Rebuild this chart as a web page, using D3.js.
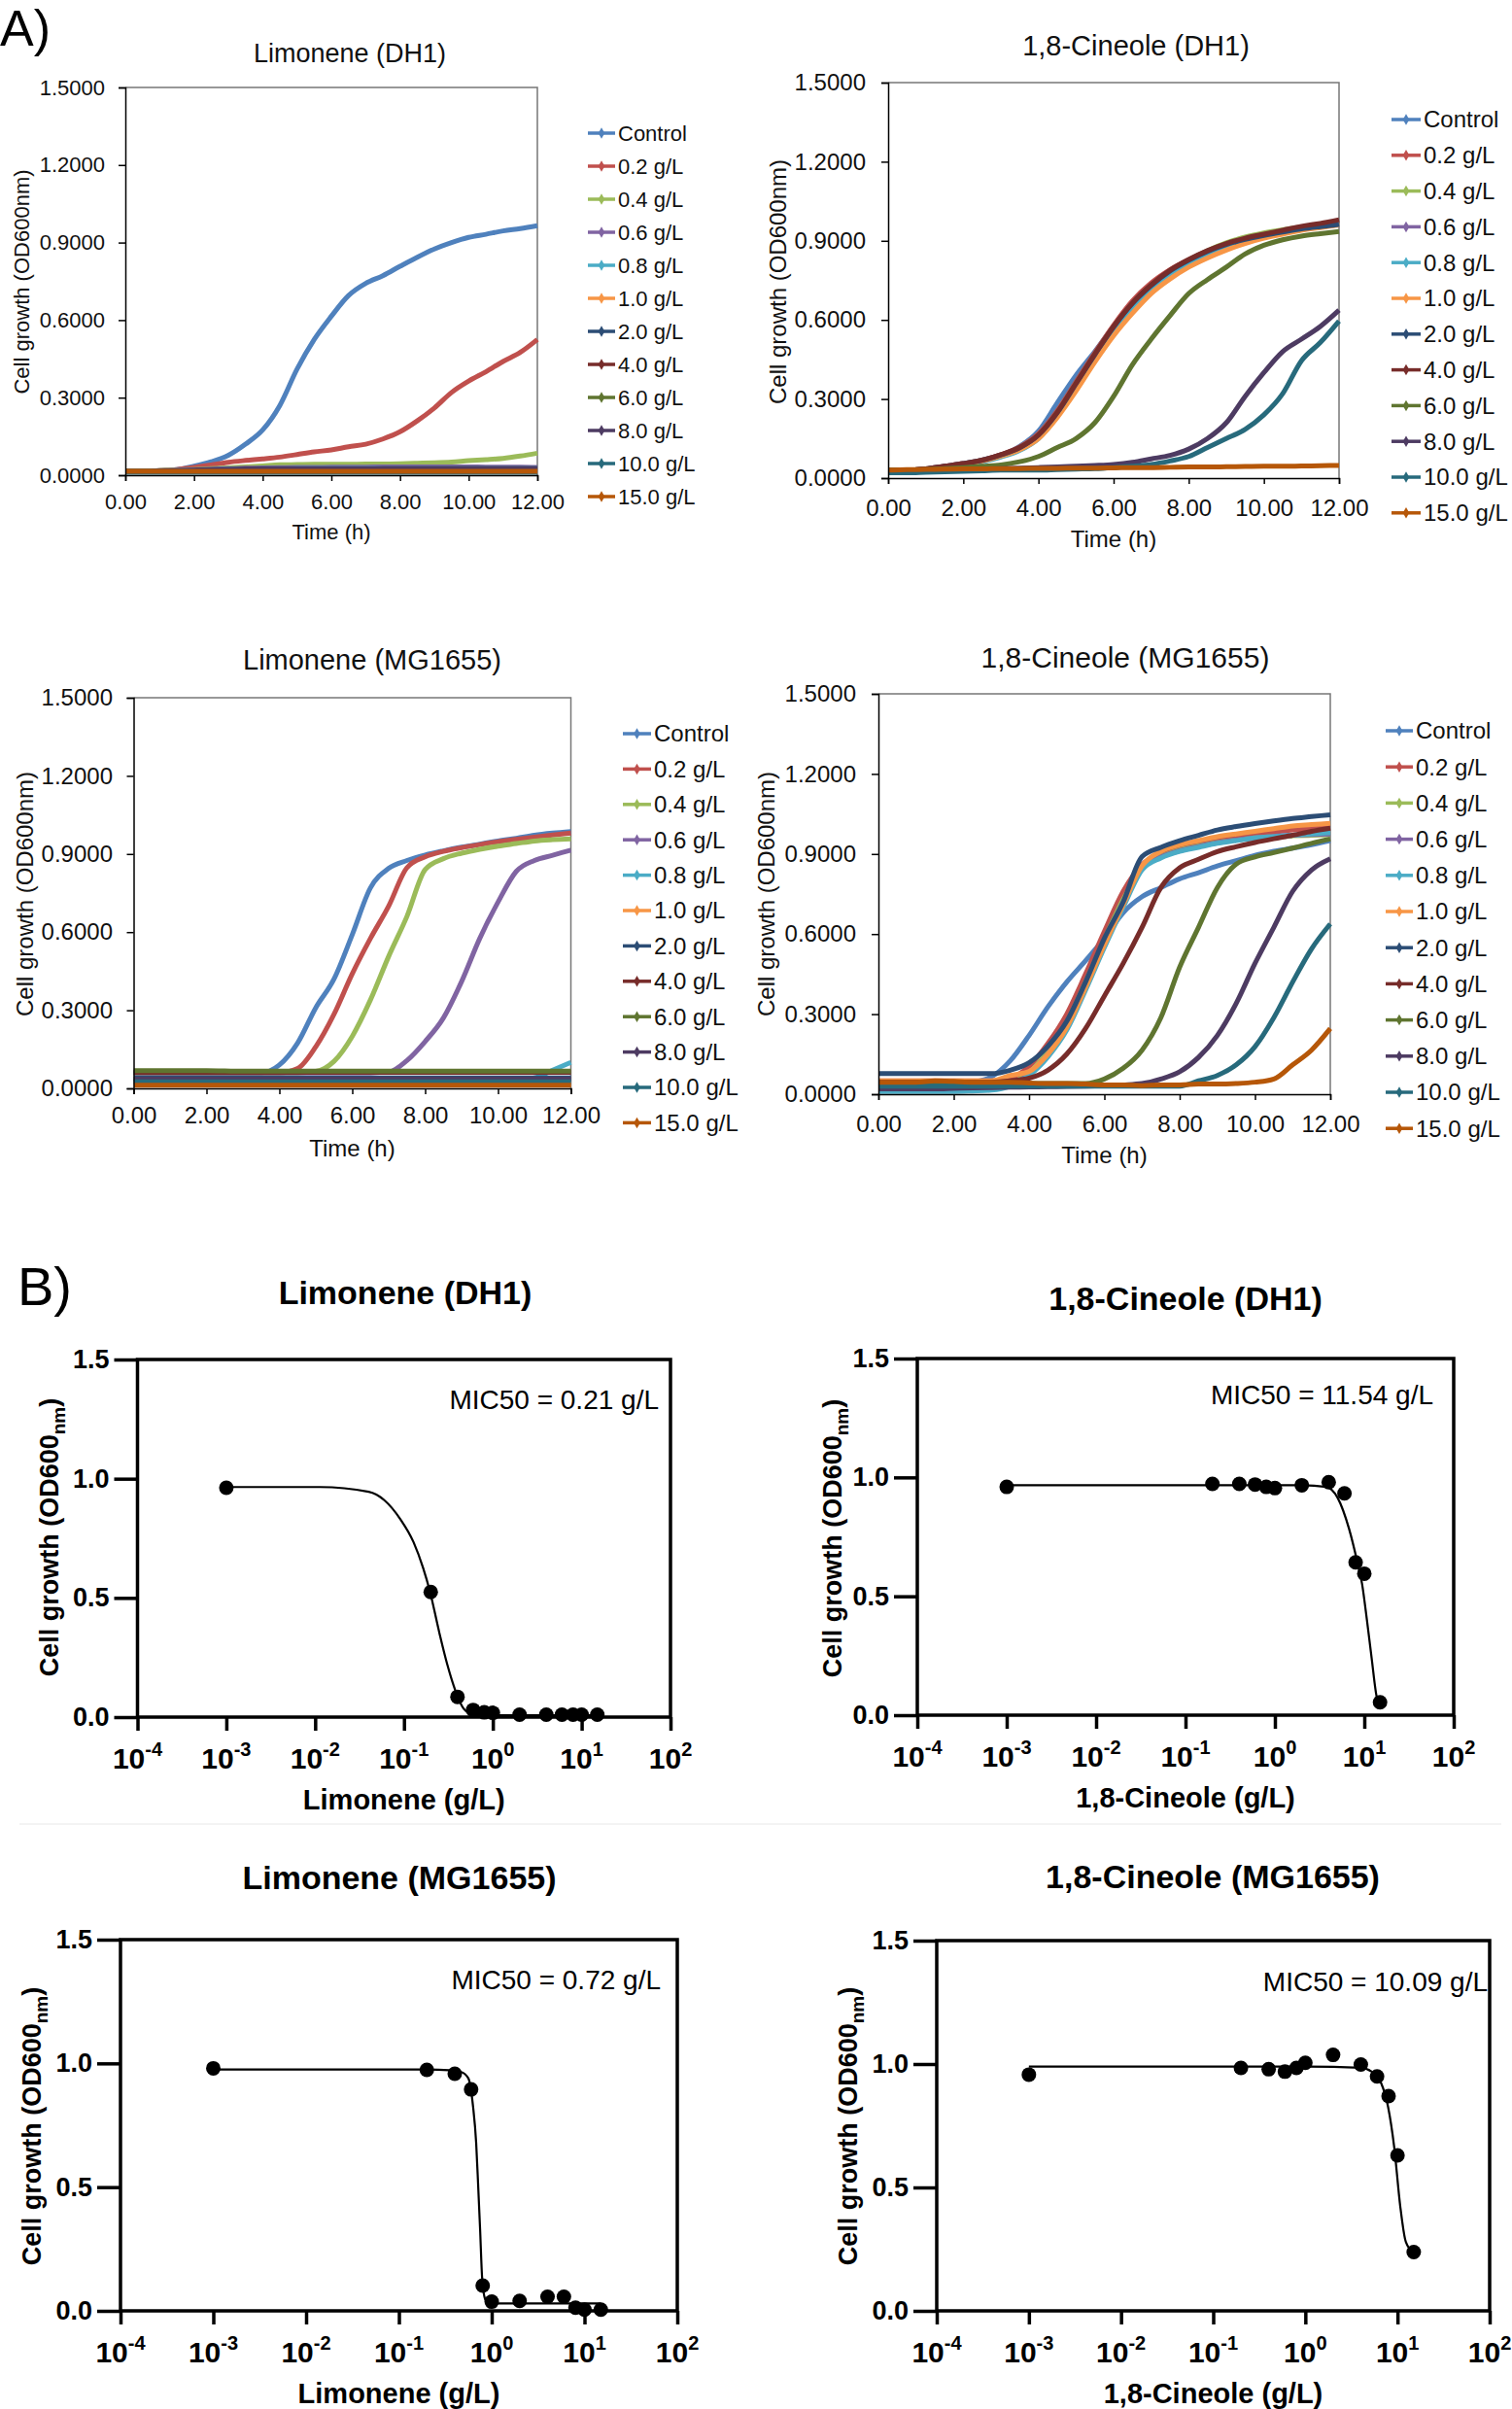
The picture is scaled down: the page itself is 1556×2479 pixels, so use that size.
<!DOCTYPE html>
<html>
<head>
<meta charset="utf-8">
<script src="https://cdn.jsdelivr.net/npm/d3@7"></script>
<style>
  body { margin: 0; background: #fff; }
  svg { display: block; font-family: "Liberation Sans", Arial, sans-serif; }
</style>
</head>
<body>
<svg id="fig" width="1556" height="2479"></svg>
<script>
// ---------- data: growth curves (A) ----------
const hours = [0,0.5,1,1.5,2,2.5,3,3.5,4,4.5,5,5.5,6,6.5,7,7.5,8,8.5,9,9.5,10,10.5,11,11.5,12];
const doseLabels = ["Control","0.2 g/L","0.4 g/L","0.6 g/L","0.8 g/L","1.0 g/L","2.0 g/L","4.0 g/L","6.0 g/L","8.0 g/L","10.0 g/L","15.0 g/L"];
const doseColors = ["#4F81BD","#C0504D","#9BBB59","#8064A2","#4BACC6","#F79646","#2C4D75","#772C2A","#5F7530","#4D3B62","#276A7C","#B65708"];
const growthYTicks = [0,0.3,0.6,0.9,1.2,1.5];
const growthXTicks = [0,2,4,6,8,10,12];

const limoneneDH1 = [
  [0.015,0.015,0.018,0.022,0.035,0.052,0.077,0.12,0.175,0.27,0.41,0.525,0.615,0.695,0.742,0.772,0.808,0.843,0.875,0.9,0.92,0.932,0.945,0.954,0.965],
  [0.015,0.016,0.018,0.022,0.03,0.04,0.05,0.057,0.063,0.07,0.08,0.09,0.098,0.11,0.12,0.14,0.168,0.21,0.26,0.32,0.364,0.4,0.44,0.475,0.525],
  [0.015,0.015,0.018,0.02,0.022,0.025,0.028,0.032,0.036,0.04,0.041,0.042,0.042,0.042,0.043,0.043,0.044,0.046,0.048,0.051,0.056,0.06,0.065,0.074,0.085],
  [0.015,0.015,0.017,0.019,0.021,0.023,0.025,0.027,0.028,0.029,0.03,0.03,0.031,0.031,0.031,0.032,0.032,0.032,0.032,0.032,0.032,0.031,0.031,0.031,0.03],
  [0.014,0.014,0.015,0.017,0.019,0.021,0.023,0.024,0.025,0.025,0.026,0.026,0.026,0.026,0.026,0.026,0.026,0.026,0.026,0.026,0.026,0.026,0.026,0.026,0.026],
  [0.014,0.014,0.015,0.016,0.017,0.018,0.019,0.02,0.02,0.021,0.021,0.021,0.021,0.021,0.021,0.021,0.021,0.021,0.021,0.021,0.021,0.021,0.021,0.021,0.021],
  [0.014,0.014,0.015,0.016,0.017,0.018,0.019,0.02,0.02,0.02,0.02,0.02,0.02,0.02,0.02,0.02,0.02,0.02,0.02,0.02,0.02,0.02,0.02,0.02,0.02],
  [0.013,0.013,0.014,0.015,0.016,0.017,0.018,0.019,0.02,0.021,0.021,0.022,0.022,0.022,0.022,0.022,0.022,0.022,0.022,0.022,0.022,0.022,0.022,0.022,0.022],
  [0.015,0.015,0.016,0.016,0.017,0.017,0.017,0.017,0.017,0.017,0.017,0.017,0.017,0.017,0.017,0.017,0.017,0.017,0.017,0.017,0.017,0.017,0.017,0.017,0.017],
  [0.014,0.014,0.016,0.018,0.02,0.022,0.023,0.024,0.025,0.025,0.025,0.025,0.025,0.025,0.025,0.026,0.026,0.026,0.026,0.026,0.026,0.026,0.026,0.026,0.026],
  [0.011,0.011,0.011,0.011,0.011,0.011,0.011,0.011,0.011,0.011,0.011,0.011,0.011,0.011,0.011,0.011,0.011,0.011,0.011,0.011,0.011,0.011,0.011,0.011,0.011],
  [0.015,0.015,0.015,0.015,0.015,0.015,0.015,0.015,0.015,0.015,0.015,0.015,0.015,0.015,0.015,0.015,0.015,0.015,0.015,0.015,0.015,0.015,0.015,0.015,0.015]
];

const cineoleDH1 = [
  [0.03,0.03,0.033,0.04,0.05,0.062,0.085,0.12,0.178,0.285,0.39,0.48,0.575,0.66,0.728,0.78,0.82,0.855,0.88,0.9,0.915,0.93,0.942,0.952,0.962],
  [0.03,0.03,0.035,0.045,0.055,0.068,0.089,0.118,0.168,0.255,0.365,0.475,0.58,0.672,0.74,0.79,0.828,0.86,0.886,0.906,0.922,0.937,0.951,0.962,0.975],
  [0.03,0.03,0.034,0.043,0.053,0.066,0.086,0.114,0.162,0.248,0.358,0.468,0.572,0.66,0.73,0.785,0.826,0.862,0.892,0.914,0.93,0.942,0.952,0.96,0.97],
  [0.03,0.03,0.034,0.043,0.053,0.066,0.086,0.112,0.16,0.245,0.355,0.465,0.57,0.658,0.727,0.78,0.82,0.855,0.882,0.902,0.918,0.932,0.945,0.955,0.965],
  [0.025,0.025,0.03,0.04,0.05,0.062,0.08,0.105,0.15,0.235,0.345,0.455,0.56,0.65,0.72,0.775,0.815,0.85,0.878,0.9,0.916,0.93,0.943,0.953,0.962],
  [0.03,0.03,0.034,0.043,0.053,0.065,0.083,0.108,0.15,0.23,0.33,0.44,0.54,0.625,0.7,0.755,0.8,0.835,0.865,0.89,0.91,0.925,0.94,0.95,0.96],
  [0.03,0.03,0.035,0.045,0.055,0.068,0.088,0.115,0.163,0.248,0.358,0.468,0.573,0.662,0.73,0.785,0.826,0.86,0.886,0.905,0.92,0.933,0.945,0.954,0.962],
  [0.03,0.03,0.035,0.045,0.055,0.068,0.089,0.116,0.164,0.25,0.36,0.47,0.575,0.664,0.733,0.788,0.829,0.863,0.89,0.91,0.925,0.94,0.955,0.966,0.98],
  [0.03,0.03,0.032,0.036,0.04,0.045,0.05,0.062,0.082,0.116,0.15,0.21,0.31,0.43,0.527,0.616,0.7,0.753,0.8,0.85,0.883,0.904,0.918,0.927,0.935],
  [0.025,0.025,0.028,0.03,0.032,0.034,0.036,0.038,0.04,0.042,0.045,0.048,0.052,0.06,0.073,0.086,0.11,0.15,0.21,0.31,0.4,0.48,0.527,0.575,0.637],
  [0.02,0.02,0.022,0.024,0.026,0.028,0.03,0.03,0.03,0.032,0.034,0.036,0.04,0.045,0.052,0.065,0.082,0.116,0.15,0.185,0.24,0.32,0.445,0.514,0.596],
  [0.03,0.032,0.033,0.034,0.035,0.035,0.036,0.036,0.037,0.037,0.038,0.038,0.039,0.04,0.04,0.041,0.042,0.042,0.043,0.044,0.045,0.045,0.046,0.047,0.048]
];

const limoneneMG1655 = [
  [0.06,0.06,0.06,0.06,0.06,0.06,0.06,0.06,0.09,0.174,0.31,0.42,0.59,0.77,0.845,0.875,0.896,0.912,0.926,0.938,0.95,0.96,0.972,0.98,0.986],
  [0.06,0.06,0.06,0.06,0.06,0.06,0.06,0.06,0.06,0.076,0.16,0.285,0.44,0.576,0.7,0.847,0.889,0.91,0.924,0.936,0.947,0.956,0.965,0.973,0.98],
  [0.06,0.06,0.06,0.06,0.06,0.06,0.06,0.06,0.06,0.06,0.065,0.104,0.2,0.34,0.507,0.66,0.84,0.882,0.903,0.918,0.93,0.94,0.95,0.955,0.958],
  [0.06,0.06,0.06,0.06,0.06,0.06,0.06,0.06,0.06,0.06,0.06,0.06,0.06,0.06,0.063,0.107,0.18,0.27,0.41,0.576,0.715,0.833,0.875,0.895,0.915],
  [0.03,0.03,0.03,0.03,0.03,0.03,0.03,0.03,0.03,0.03,0.03,0.03,0.03,0.03,0.03,0.03,0.03,0.03,0.03,0.03,0.03,0.032,0.04,0.07,0.1],
  [0.015,0.015,0.015,0.015,0.015,0.015,0.015,0.015,0.015,0.015,0.015,0.015,0.015,0.015,0.015,0.015,0.015,0.015,0.015,0.015,0.015,0.015,0.015,0.015,0.015],
  [0.04,0.04,0.04,0.04,0.04,0.04,0.04,0.04,0.04,0.04,0.04,0.04,0.04,0.04,0.04,0.04,0.04,0.04,0.04,0.04,0.04,0.04,0.04,0.04,0.04],
  [0.062,0.062,0.062,0.062,0.062,0.062,0.062,0.062,0.062,0.062,0.062,0.062,0.062,0.062,0.062,0.062,0.062,0.062,0.062,0.062,0.062,0.062,0.062,0.062,0.062],
  [0.068,0.068,0.068,0.068,0.068,0.067,0.066,0.066,0.066,0.066,0.066,0.066,0.066,0.066,0.066,0.066,0.066,0.066,0.066,0.066,0.066,0.066,0.066,0.066,0.066],
  [0.035,0.035,0.035,0.035,0.035,0.035,0.035,0.035,0.035,0.035,0.035,0.035,0.035,0.035,0.035,0.035,0.035,0.035,0.035,0.035,0.035,0.035,0.035,0.035,0.035],
  [0.025,0.025,0.025,0.025,0.025,0.025,0.025,0.025,0.025,0.025,0.025,0.025,0.025,0.025,0.025,0.025,0.025,0.025,0.025,0.025,0.025,0.025,0.025,0.025,0.025],
  [0.012,0.012,0.012,0.012,0.012,0.012,0.012,0.012,0.012,0.012,0.012,0.012,0.012,0.012,0.012,0.012,0.012,0.012,0.012,0.012,0.012,0.012,0.012,0.012,0.012]
];

const cineoleMG1655 = [
  [0.035,0.035,0.035,0.036,0.038,0.045,0.065,0.125,0.22,0.327,0.42,0.5,0.584,0.68,0.74,0.774,0.807,0.83,0.855,0.875,0.895,0.91,0.922,0.935,0.95],
  [0.05,0.05,0.05,0.05,0.05,0.05,0.05,0.06,0.104,0.19,0.3,0.45,0.61,0.76,0.86,0.9,0.925,0.94,0.955,0.965,0.975,0.982,0.99,0.995,1.0],
  [0.02,0.02,0.02,0.02,0.02,0.02,0.025,0.04,0.08,0.16,0.27,0.42,0.58,0.73,0.85,0.89,0.915,0.93,0.943,0.952,0.96,0.965,0.968,0.97,0.972],
  [0.02,0.02,0.02,0.02,0.02,0.02,0.022,0.035,0.075,0.15,0.26,0.41,0.57,0.72,0.845,0.888,0.912,0.928,0.942,0.952,0.96,0.966,0.97,0.973,0.975],
  [0.01,0.01,0.01,0.01,0.01,0.012,0.015,0.03,0.07,0.14,0.24,0.39,0.55,0.7,0.84,0.885,0.91,0.925,0.94,0.95,0.96,0.965,0.97,0.975,0.98],
  [0.05,0.05,0.05,0.05,0.05,0.05,0.05,0.07,0.085,0.15,0.25,0.4,0.56,0.71,0.855,0.91,0.935,0.95,0.965,0.975,0.985,0.995,1.005,1.01,1.015],
  [0.077,0.077,0.077,0.077,0.077,0.077,0.077,0.09,0.118,0.18,0.273,0.42,0.584,0.72,0.89,0.925,0.95,0.97,0.99,1.003,1.014,1.024,1.033,1.04,1.047],
  [0.045,0.045,0.045,0.045,0.045,0.045,0.045,0.05,0.06,0.09,0.15,0.246,0.368,0.49,0.625,0.774,0.848,0.88,0.909,0.927,0.943,0.957,0.97,0.985,0.997],
  [0.04,0.04,0.04,0.04,0.04,0.04,0.04,0.04,0.04,0.04,0.04,0.04,0.057,0.097,0.165,0.287,0.476,0.625,0.774,0.862,0.889,0.905,0.922,0.94,0.956],
  [0.02,0.02,0.02,0.02,0.022,0.024,0.025,0.026,0.027,0.028,0.029,0.03,0.032,0.035,0.04,0.057,0.084,0.138,0.22,0.34,0.49,0.625,0.76,0.84,0.882],
  [0.03,0.03,0.03,0.03,0.03,0.03,0.03,0.03,0.03,0.03,0.03,0.03,0.03,0.03,0.03,0.03,0.03,0.05,0.07,0.11,0.178,0.287,0.42,0.544,0.638],
  [0.045,0.045,0.045,0.05,0.048,0.045,0.045,0.045,0.042,0.04,0.04,0.038,0.035,0.035,0.032,0.035,0.035,0.038,0.038,0.04,0.045,0.057,0.11,0.165,0.246]
];

// ---------- data: dose response (B) ----------
const concentrations = [0.001,0.2,0.4,0.6,0.8,1.0,2.0,4.0,6.0,8.0,10.0,15.0];
const doseYTicks = [0,0.5,1.0,1.5];
const decadeTicks = [1e-4,1e-3,1e-2,1e-1,1e0,1e1,1e2];
const decadeExp = ["-4","-3","-2","-1","0","1","2"];

const limDH1Od = [0.962,0.525,0.085,0.03,0.02,0.018,0.01,0.01,0.01,0.01,0.01,0.01];
const cinDH1Od = [0.96,0.973,0.973,0.97,0.96,0.955,0.967,0.98,0.933,0.643,0.595,0.054];
const limMGOd  = [0.98,0.974,0.958,0.895,0.102,0.037,0.04,0.057,0.057,0.013,0.005,0.005];
const cinMGOd  = [0.957,0.984,0.979,0.969,0.984,1.005,1.037,0.998,0.95,0.87,0.63,0.238];

// fitted curves
const limDH1FitX = [0.001,0.0113,0.04,0.06,0.091,0.128,0.164,0.195,0.25,0.308,0.38,0.47,0.55,0.7,15];
const limDH1FitY = [0.965,0.965,0.945,0.91,0.83,0.734,0.626,0.53,0.354,0.219,0.11,0.035,0.015,0.008,0.008];
const cinDH1FitX = [0.001,2,3.77,5.05,6.76,8.32,9.44,10.7,12.1,13.8,15];
const cinDH1FitY = [0.967,0.967,0.96,0.913,0.783,0.647,0.552,0.4,0.238,0.075,0.045];
const limMGFitX = [0.001,0.2,0.35,0.47,0.56,0.63,0.68,0.716,0.75,0.79,0.857,0.97,15];
const limMGFitY = [0.975,0.975,0.972,0.965,0.94,0.825,0.68,0.5,0.33,0.13,0.045,0.03,0.03];
const cinMGFitX = [0.001,1,4,5.2,6.6,7.9,9.2,10.7,12.3,15];
const cinMGFitY = [0.99,0.99,0.985,0.97,0.925,0.827,0.665,0.425,0.28,0.235];

// ---------- drawing ----------
const svg = d3.select("#fig");
svg.append("rect").attr("width",1556).attr("height",2479).attr("fill","#fff");

// panel letters
svg.append("text").attr("x",0).attr("y",47).style("font-size","52px").text("A)");
svg.append("text").attr("x",18).attr("y",1343).style("font-size","56px").text("B)");

// faint separator
svg.append("line").attr("x1",20).attr("x2",1545).attr("y1",1877).attr("y2",1877)
  .style("stroke","#e8e8e8").style("stroke-width",1);

function drawGrowth(c, series){
  const g = svg.append("g");
  const x = d3.scaleLinear().domain([0,12]).range([c.left,c.right]);
  const y = d3.scaleLinear().domain([0,1.5]).range([c.bottom,c.top]);

  // top / right frame
  g.append("path")
    .attr("d",`M${c.left},${c.top}H${c.right}V${c.bottom}`)
    .style("fill","none").style("stroke","#777").style("stroke-width",1.5);

  const clipId = "clip" + c.id;
  g.append("clipPath").attr("id",clipId).append("rect")
    .attr("x",c.left).attr("y",c.top - 2).attr("width",c.right - c.left + 2).attr("height",c.bottom - c.top + 4);

  const line = d3.line().x((d,i)=>x(hours[i])).y(d=>y(d)).curve(d3.curveMonotoneX);
  g.append("g").attr("clip-path",`url(#${clipId})`)
    .selectAll("path").data(series).join("path")
    .attr("d",line)
    .style("fill","none")
    .style("stroke",(d,i)=>doseColors[i])
    .style("stroke-width",5)
    .style("stroke-linejoin","round");

  // axes
  const ya = g.append("g").attr("transform",`translate(${c.left},0)`)
    .call(d3.axisLeft(y).tickValues(growthYTicks).tickFormat(d3.format(".4f")).tickSize(7).tickPadding(c.yPad));
  const xa = g.append("g").attr("transform",`translate(0,${c.bottom})`)
    .call(d3.axisBottom(x).tickValues(growthXTicks).tickFormat(d3.format(".2f")).tickSize(6));
  [ya,xa].forEach(a=>{
    a.select(".domain").style("stroke","#000").style("stroke-width",1.5);
    a.selectAll(".tick line").style("stroke","#000").style("stroke-width",1.5);
    a.selectAll("text").style("font-family",'"Liberation Sans", Arial, sans-serif')
      .style("font-size",c.tickSize + "px").style("fill","#111");
  });
  xa.selectAll("text").attr("y",c.xTickBase - c.bottom).attr("dy",0);

  // titles
  g.append("text").attr("x",c.titleX).attr("y",c.titleY).attr("text-anchor","middle")
    .style("font-size",c.titleSize + "px").style("fill","#111").text(c.title);
  g.append("text").attr("x",(c.left + c.right)/2).attr("y",c.timeBase).attr("text-anchor","middle")
    .style("font-size",c.labelSize + "px").style("fill","#111").text("Time (h)");
  g.append("text")
    .attr("transform",`translate(${c.yLabelX},${c.yLabelY}) rotate(-90)`)
    .attr("text-anchor","middle")
    .style("font-size",c.labelSize + "px").style("fill","#111").text("Cell growth (OD600nm)");

  // legend
  const lg = g.append("g").selectAll("g").data(doseLabels).join("g")
    .attr("transform",(d,i)=>`translate(${c.legX},${c.legY + i*c.legDy})`);
  lg.append("line").attr("x1",0).attr("x2",c.legLen).attr("y1",0).attr("y2",0)
    .style("stroke",(d,i)=>doseColors[i]).style("stroke-width",3.5);
  lg.append("path").attr("transform",`translate(${c.legLen/2},0)`)
    .attr("d",d3.symbol(d3.symbolDiamond,38))
    .style("fill",(d,i)=>doseColors[i]);
  lg.append("text").attr("x",c.legLen + 3).attr("dy","0.35em")
    .style("font-size",c.legSize + "px").style("fill","#111").text(d=>d);
}

drawGrowth({id:"a1",title:"Limonene (DH1)",left:129,right:553,top:90,bottom:489,
  titleX:360,titleY:64,titleSize:27,tickSize:22,yPad:14,xTickBase:524,timeBase:555,labelSize:22,
  yLabelX:30,yLabelY:290,legX:605,legLen:28,legY:137,legDy:34,legSize:22}, limoneneDH1);
drawGrowth({id:"a2",title:"1,8-Cineole (DH1)",left:914,right:1378,top:85,bottom:492,
  titleX:1169,titleY:57,titleSize:29,tickSize:24,yPad:16,xTickBase:531,timeBase:563,labelSize:24,
  yLabelX:809,yLabelY:290,legX:1432,legLen:30,legY:123,legDy:36.8,legSize:24}, cineoleDH1);
drawGrowth({id:"a3",title:"Limonene (MG1655)",left:137.5,right:587.5,top:718,bottom:1120,
  titleX:383,titleY:689,titleSize:29,tickSize:24,yPad:14.5,xTickBase:1156,timeBase:1190,labelSize:24,
  yLabelX:34,yLabelY:920,legX:641,legLen:29,legY:755,legDy:36.4,legSize:24}, limoneneMG1655);
drawGrowth({id:"a4",title:"1,8-Cineole (MG1655)",left:904,right:1369,top:714,bottom:1126,
  titleX:1158,titleY:687,titleSize:30,tickSize:24,yPad:16,xTickBase:1165,timeBase:1197,labelSize:24,
  yLabelX:797,yLabelY:920,legX:1426,legLen:28,legY:752,legDy:37.2,legSize:24}, cineoleMG1655);

function drawDose(c){
  const g = svg.append("g");
  const x = d3.scaleLog().domain([1e-4,1e2]).range([c.left,c.right]);
  const y = d3.scaleLinear().domain([0,1.5]).range([c.bottom,c.top]);

  g.append("rect").attr("x",c.left).attr("y",c.top).attr("width",c.right - c.left).attr("height",c.bottom - c.top)
    .style("fill","none").style("stroke","#000").style("stroke-width",3.5);

  const ya = g.append("g").attr("transform",`translate(${c.left},0)`)
    .call(d3.axisLeft(y).tickValues(doseYTicks).tickFormat(d3.format(".1f")).tickSize(24).tickPadding(5));
  const xa = g.append("g").attr("transform",`translate(0,${c.bottom})`)
    .call(d3.axisBottom(x).tickValues(decadeTicks).tickFormat("").tickSize(14));
  [ya,xa].forEach(a=>{
    a.select(".domain").remove();
    a.selectAll(".tick line").style("stroke","#000").style("stroke-width",3.5);
  });
  ya.selectAll("text").style("font-family",'"Liberation Sans", Arial, sans-serif')
    .style("font-size","27px").style("font-weight","bold").style("fill","#000");

  const xl = g.append("g").selectAll("text").data(decadeTicks).join("text")
    .attr("x",d=>x(d)).attr("y",c.bottom + 53).attr("text-anchor","middle")
    .style("font-size","30px").style("font-weight","bold");
  xl.append("tspan").text("10");
  xl.append("tspan").attr("dy",-13).style("font-size","20px").text((d,i)=>decadeExp[i]);

  // fit curve
  const fit = c.fitX.map((v,i)=>[v,c.fitY[i]]);
  g.append("path").datum(fit)
    .attr("d",d3.line().x(d=>x(d[0])).y(d=>y(d[1])).curve(d3.curveMonotoneX))
    .style("fill","none").style("stroke","#000").style("stroke-width",2.2);

  g.selectAll("circle").data(c.od).join("circle")
    .attr("cx",(d,i)=>x(concentrations[i])).attr("cy",d=>y(d)).attr("r",7.5).style("fill","#000");

  g.append("text").attr("x",c.micX).attr("y",c.micY).attr("text-anchor","end")
    .style("font-size","28px").text(c.mic);
  g.append("text").attr("x",c.titleX).attr("y",c.titleY).attr("text-anchor","middle")
    .style("font-size","34px").style("font-weight","bold").text(c.title);
  g.append("text").attr("x",(c.left + c.right)/2).attr("y",c.bottom + 95).attr("text-anchor","middle")
    .style("font-size","29px").style("font-weight","bold").text(c.xLabel);
  const yl = g.append("text")
    .attr("transform",`translate(${c.yLabelX},${c.yLabelY}) rotate(-90)`)
    .attr("text-anchor","middle").style("font-size","27px").style("font-weight","bold");
  yl.append("tspan").text("Cell growth (OD600");
  yl.append("tspan").attr("dy",7).style("font-size","19px").text("nm");
  yl.append("tspan").attr("dy",-7).text(")");
}

drawDose({title:"Limonene (DH1)",left:141.5,right:690,top:1399,bottom:1767,titleX:417,titleY:1342,
  xLabel:"Limonene (g/L)",yLabelX:60,yLabelY:1582,mic:"MIC50 = 0.21 g/L",micX:678,micY:1450,
  od:limDH1Od,fitX:limDH1FitX,fitY:limDH1FitY});
drawDose({title:"1,8-Cineole (DH1)",left:944,right:1496,top:1398,bottom:1765,titleX:1220,titleY:1348,
  xLabel:"1,8-Cineole (g/L)",yLabelX:866,yLabelY:1583,mic:"MIC50 = 11.54 g/L",micX:1475,micY:1445,
  od:cinDH1Od,fitX:cinDH1FitX,fitY:cinDH1FitY});
drawDose({title:"Limonene (MG1655)",left:124,right:697,top:1996,bottom:2378,titleX:411,titleY:1944,
  xLabel:"Limonene (g/L)",yLabelX:42,yLabelY:2188,mic:"MIC50 = 0.72 g/L",micX:680,micY:2047,
  od:limMGOd,fitX:limMGFitX,fitY:limMGFitY});
drawDose({title:"1,8-Cineole (MG1655)",left:964,right:1533,top:1997,bottom:2378,titleX:1248,titleY:1943,
  xLabel:"1,8-Cineole (g/L)",yLabelX:882,yLabelY:2188,mic:"MIC50 = 10.09 g/L",micX:1531,micY:2049,
  od:cinMGOd,fitX:cinMGFitX,fitY:cinMGFitY});
</script>
</body>
</html>
